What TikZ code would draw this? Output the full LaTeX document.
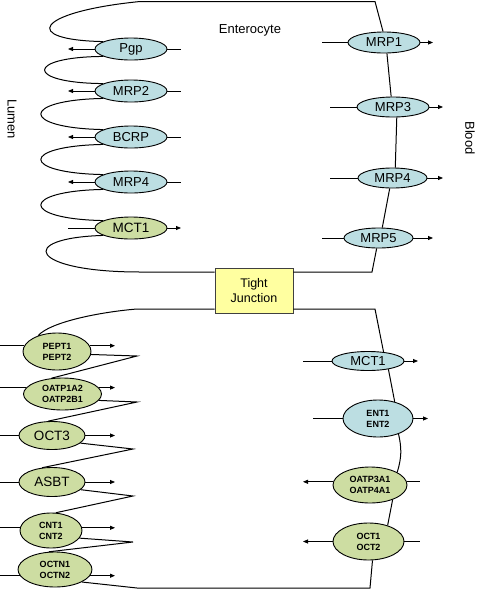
\documentclass[tikz,border=0pt]{standalone}
\usepackage{fontspec}
\setmainfont{Liberation Sans}
\usepackage{tikz}
\usetikzlibrary{shapes}
\usetikzlibrary{arrows.meta}

\begin{document}
\begin{tikzpicture}[x=1pt, y=-1pt,
 every text node part/.style={align=center},
lbl/.style={inner sep=0pt, font=\fontsize{13}{15}\selectfont},
junc/.style={rectangle, draw=black!75, fill=tjfill, inner sep=0pt, line width=0.9pt, minimum width=78pt, minimum height=45pt, font=\fontsize{12.5}{14.5}\selectfont},
effl/.style={ellipse, draw, fill=efflux, inner sep=0pt, line width=0.9pt, font=\fontsize{13}{15}\selectfont},
upt/.style={ellipse, draw, fill=uptake, inner sep=0pt, line width=0.9pt, font=\fontsize{13.5}{15}\selectfont},
pair/.style={font=\fontsize{9}{11}\selectfont\bfseries},
arrow/.style={-{Triangle[length=5pt, width=4pt]}, line width=0.8pt},
plain/.style={line width=0.8pt},
memb/.style={line width=1pt}]

    \definecolor{efflux}{RGB}{188,222,226}
    \definecolor{uptake}{RGB}{205,221,162}
    \definecolor{tjfill}{RGB}{255,255,160}

	\useasboundingbox (0,0) rectangle (480,590);

	\node[lbl] (cell) at (250,30) {Enterocyte};
	\node[lbl, rotate=-90] (lumen) at (12,119) {Lumen};
	\node[lbl, rotate=-90] (blood) at (470,138) {Blood};

	\node[junc] (tj) at (254,290.5) {Tight\\Junction};

	% apical side, top cell
	\node[effl, minimum width=72pt, minimum height=22pt] (pgp) at (131,49) {Pgp};
	\node[effl, minimum width=72pt, minimum height=22pt] (mrp2) at (131,91) {MRP2};
	\node[effl, minimum width=72pt, minimum height=22pt] (bcrp) at (131,137) {BCRP};
	\node[effl, minimum width=72pt, minimum height=22pt] (mrp4l) at (131,182) {MRP4};
	\node[upt, minimum width=72pt, minimum height=22pt] (mct1l) at (131,228) {MCT1};

	% basolateral side, top cell
	\node[effl, minimum width=72pt, minimum height=21pt] (mrp1) at (384,42.5) {MRP1};
	\node[effl, minimum width=72pt, minimum height=20pt] (mrp3) at (393,107) {MRP3};
	\node[effl, minimum width=69pt, minimum height=20pt] (mrp4r) at (392.5,178) {MRP4};
	\node[effl, minimum width=69pt, minimum height=20pt] (mrp5) at (378.5,238) {MRP5};

	% apical side, bottom cell
	\node[upt, pair, minimum width=68pt, minimum height=37pt] (pept) at (57,351.5) {PEPT1\\PEPT2};
	\node[upt, pair, minimum width=78pt, minimum height=32pt] (oatpl) at (62.5,394) {OATP1A2\\OATP2B1};
	\node[upt, minimum width=66pt, minimum height=28pt] (oct3) at (52,435.5) {OCT3};
	\node[upt, minimum width=66pt, minimum height=29pt] (asbt) at (52,482) {ASBT};
	\node[upt, pair, minimum width=62pt, minimum height=35pt] (cnt) at (51,530.5) {CNT1\\CNT2};
	\node[upt, pair, minimum width=74pt, minimum height=35pt] (octn) at (55,569.5) {OCTN1\\OCTN2};

	% basolateral side, bottom cell
	\node[effl, minimum width=72pt, minimum height=19pt] (mct1r) at (368,361) {MCT1};
	\node[effl, pair, minimum width=70pt, minimum height=37pt] (ent) at (378,418.5) {ENT1\\ENT2};
	\node[upt, pair, minimum width=74pt, minimum height=36pt] (oatpr) at (370,485) {OATP3A1\\OATP4A1};
	\node[upt, pair, minimum width=71pt, minimum height=37pt] (oct12) at (368.5,541.5) {OCT1\\OCT2};

	\coordinate (topL) at (140,1.5);
	\coordinate (topR) at (375,1.5);
	\coordinate (jTL) at (140,272);
	\coordinate (jTR) at (372,272);
	\coordinate (jBL) at (137,309);
	\coordinate (jBR) at (375,309);
	\coordinate (baseL) at (137,588);
	\coordinate (baseR) at (370,588);
	\coordinate (zz1) at (137,356);
	\coordinate (zz2) at (137,402);
	\coordinate (zz3) at (133,449);
	\coordinate (zz4) at (133,496);
	\coordinate (zz5) at (133,542);

	\coordinate (lumA) at (68,0);
	\coordinate (lumB) at (0,0);
	\coordinate (cytA) at (181,0);
	\coordinate (cytC) at (322,0);
	\coordinate (cytD) at (330,0);
	\coordinate (cytE) at (115,0);
	\coordinate (cytF) at (303,0);
	\coordinate (cytG) at (313,0);
	\coordinate (bldA) at (433,0);
	\coordinate (bldB) at (443,0);
	\coordinate (bldC) at (418,0);
	\coordinate (bldD) at (428,0);
	\coordinate (bldE) at (420,0);

	% top cell membrane
	\draw[memb] (pgp.165) .. controls (20,40) and (35,12) .. (topL) -- (topR) -- (mrp1.95);
	\draw[memb] (pgp.195) .. controls (25,57) and (25,83) .. (mrp2.165);
	\draw[memb] (mrp2.195) .. controls (20,100) and (20,128) .. (bcrp.165);
	\draw[memb] (bcrp.195) .. controls (20,146) and (20,173) .. (mrp4l.165);
	\draw[memb] (mrp4l.195) .. controls (20,191) and (20,219) .. (mct1l.165);
	\draw[memb] (mct1l.195) .. controls (15,238) and (30,272) .. (jTL) -- (tj.west |- jTL);
	\draw[memb] (mrp1.-75) -- (mrp3.100);
	\draw[memb] (mrp3.-70) -- (mrp4r.75);
	\draw[memb] (mrp4r.-105) -- (mrp5.70);
	\draw[memb] (mrp5.-100) -- (jTR) -- (tj.east |- jTR);

	% bottom cell membrane
	\draw[memb] (tj.west |- jBL) -- (jBL) .. controls (100,312) and (50,322) .. (pept.140);
	\draw[memb] (pept.-5) -- (zz1) -- (oatpl.125);
	\draw[memb] (oatpl.-10) -- (zz2) -- (oct3.105);
	\draw[memb] (oct3.-15) -- (zz3) -- (asbt.125);
	\draw[memb] (asbt.-15) -- (zz4) -- (cnt.75);
	\draw[memb] (cnt.-15) -- (zz5) -- (octn.110);
	\draw[memb] (octn.-25) -- (baseL) -- (baseR) -- (oct12.-78);
	\draw[memb] (tj.east |- jBR) -- (jBR) -- (mct1r.30);
	\draw[memb] (mct1r.-22) -- (ent.45);
	\draw[memb] (ent.-37) to[bend left=15] (oatpr.25);
	\draw[memb] (oatpr.-33) -- (oct12.40);

	% transport, top cell
	\draw (pgp.west) edge [arrow] (pgp.west -| lumA);
	\draw (pgp.east) edge [plain] (pgp.east -| cytA);
	\draw (mrp2.west) edge [arrow] (mrp2.west -| lumA);
	\draw (mrp2.east) edge [plain] (mrp2.east -| cytA);
	\draw (bcrp.west) edge [arrow] (bcrp.west -| lumA);
	\draw (bcrp.east) edge [plain] (bcrp.east -| cytA);
	\draw (mrp4l.west) edge [arrow] (mrp4l.west -| lumA);
	\draw (mrp4l.east) edge [plain] (mrp4l.east -| cytA);
	\draw (mct1l.west -| lumA) edge [plain] (mct1l.west);
	\draw (mct1l.east) edge [arrow] (mct1l.east -| cytA);
	\draw (mrp1.west -| cytC) edge [plain] (mrp1.west);
	\draw (mrp1.east) edge [arrow] (mrp1.east -| bldA);
	\draw (mrp3.west -| cytD) edge [plain] (mrp3.west);
	\draw (mrp3.east) edge [arrow] (mrp3.east -| bldB);
	\draw (mrp4r.west -| cytD) edge [plain] (mrp4r.west);
	\draw (mrp4r.east) edge [arrow] (mrp4r.east -| bldB);
	\draw (mrp5.west -| cytC) edge [plain] (mrp5.west);
	\draw (mrp5.east) edge [arrow] (mrp5.east -| bldA);

	% transport, bottom cell
	\draw (pept.170 -| lumB) edge [plain] (pept.170);
	\draw (pept.10) edge [arrow] (pept.10 -| cytE);
	\draw (oatpl.170 -| lumB) edge [plain] (oatpl.170);
	\draw (oatpl.10) edge [arrow] (oatpl.10 -| cytE);
	\draw (oct3.west -| lumB) edge [plain] (oct3.west);
	\draw (oct3.east) edge [arrow] (oct3.east -| cytE);
	\draw (asbt.west -| lumB) edge [plain] (asbt.west);
	\draw (asbt.east) edge [arrow] (asbt.east -| cytE);
	\draw (cnt.175 -| lumB) edge [plain] (cnt.175);
	\draw (cnt.5) edge [arrow] (cnt.5 -| cytE);
	\draw (octn.-170 -| lumB) edge [plain] (octn.-170);
	\draw (octn.-10) edge [arrow] (octn.-10 -| cytE);
	\draw (mct1r.west -| cytF) edge [plain] (mct1r.west);
	\draw (mct1r.east) edge [arrow] (mct1r.east -| bldC);
	\draw (ent.west -| cytG) edge [plain] (ent.west);
	\draw (ent.east) edge [arrow] (ent.east -| bldD);
	\draw (oatpr.175) edge [arrow] (oatpr.175 -| cytF);
	\draw (oatpr.5) edge [plain] (oatpr.5 -| bldE);
	\draw (oct12.west) edge [arrow] (oct12.west -| cytF);
	\draw (oct12.east) edge [plain] (oct12.east -| bldE);
\end{tikzpicture}
\end{document}
